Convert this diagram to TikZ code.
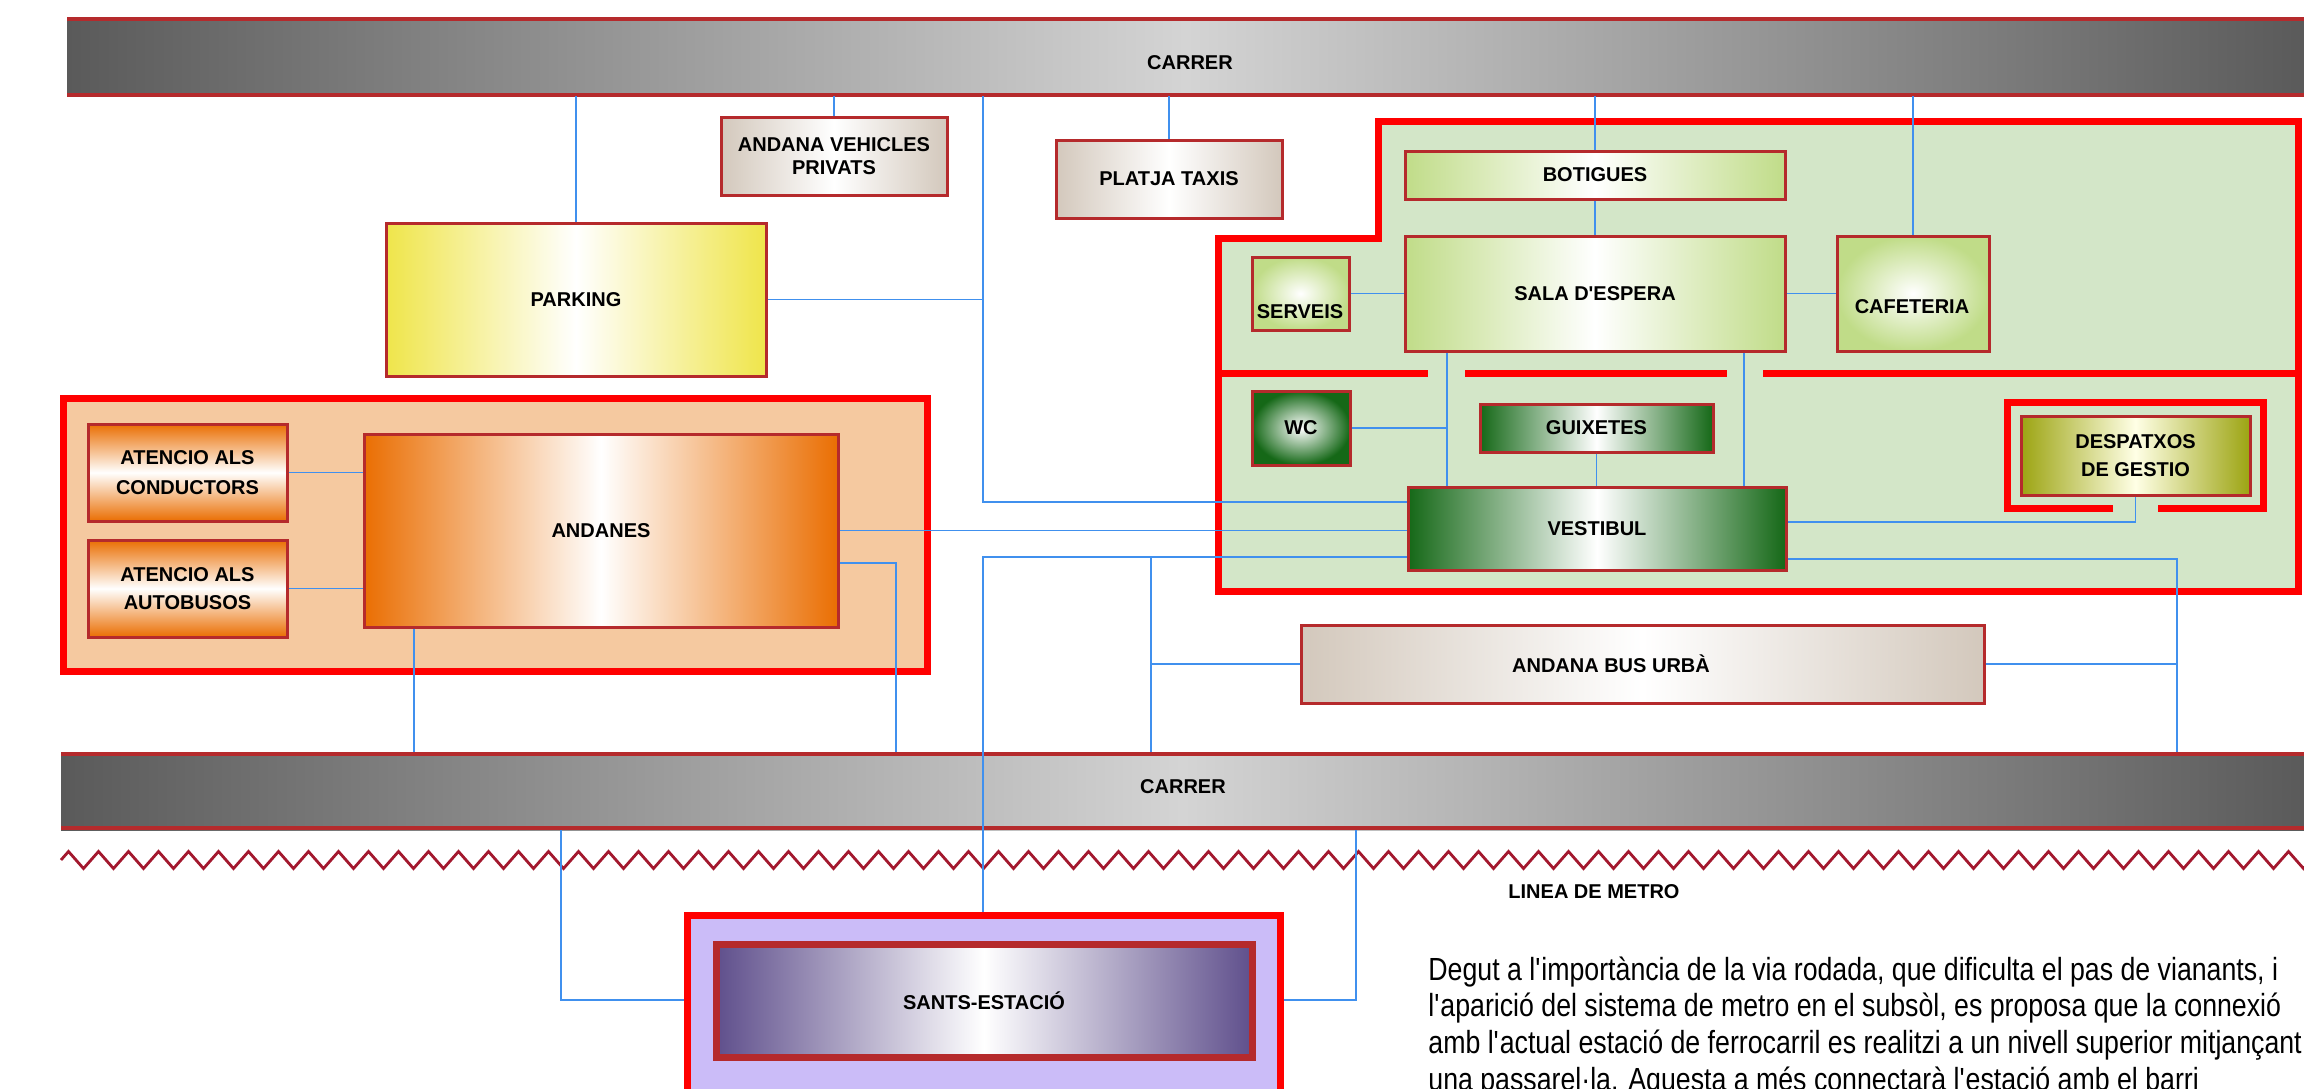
\documentclass[tikz,border=0pt]{standalone}
\usepackage{fontspec}
\setmainfont{Liberation Sans}
\newfontfamily\narrowfont[FakeStretch=0.835]{Liberation Sans}
\usetikzlibrary{fit,decorations.pathmorphing}
\definecolor{bardark}{HTML}{5A5A5A}
\definecolor{barlight}{HTML}{D4D4D4}
\definecolor{boxred}{HTML}{B52A2C}
\definecolor{zonered}{HTML}{FF0000}
\definecolor{greenzone}{HTML}{D3E6C8}
\definecolor{orangezone}{HTML}{F5C9A0}
\definecolor{lavzone}{HTML}{CBBCF8}
\definecolor{connblue}{HTML}{4090EE}
\definecolor{beige}{HTML}{D3C8BC}
\definecolor{yel}{HTML}{EFE54A}
\definecolor{lgreen}{HTML}{C0DC88}
\definecolor{dgreen}{HTML}{156817}
\definecolor{olive}{HTML}{9CA412}
\definecolor{orng}{HTML}{EA6E02}
\definecolor{purp}{HTML}{5F4F8C}
\definecolor{zigred}{HTML}{A3182E}
\newcommand\lblfont{\bfseries\fontsize{10}{11.5}\selectfont}
\newcommand\ap{\textquotesingle}
\begin{document}
\begin{tikzpicture}[x=0.5pt,y=-0.5pt,
 sz/.style 2 args={minimum width=#1*0.5pt,minimum height=#2*0.5pt},
 box/.style={draw=boxred,line width=1.5pt,inner sep=0pt,font=\lblfont,align=center},
 beigebox/.style={box,left color=beige,right color=beige,middle color=white},
 yelbox/.style={box,left color=yel,right color=yel,middle color=white},
 lgbox/.style={box,left color=lgreen,right color=lgreen,middle color=white},
 lgradbox/.style={box,inner color=white,outer color=lgreen},
 dgbox/.style={box,left color=dgreen,right color=dgreen,middle color=white},
 dgradbox/.style={box,inner color=white,outer color=dgreen},
 olbox/.style={box,left color=olive,right color=olive,middle color=white!90!yellow},
 orbox/.style={box,left color=orng,right color=orng,middle color=white},
 orvbox/.style={box,top color=orng,bottom color=orng,middle color=white},
 pubox/.style={box,line width=3.5pt,left color=purp,right color=purp,middle color=white},
 bar/.style={inner sep=0pt,left color=bardark,right color=bardark,middle color=barlight},
 barline/.style={draw=boxred,line width=1.75pt},
 zone/.style={draw=zonered,line width=3.5pt},
 conn/.style={draw=connblue,line width=0.8pt},
 lbl/.style={font=\lblfont,inner sep=0pt,align=center},
]
\fill[white] (0,0) rectangle (2304,1088);
\useasboundingbox (0,0) rectangle (2304,1088);

% zones
\draw[zone,fill=orangezone] (63,398) rectangle (927,671);
\draw[zone,fill=greenzone] (1218,238) -- (1378,238) -- (1378,121) -- (2298,121) -- (2298,591) -- (1218,591) -- cycle;
\draw[zone] (1218,373) -- (1428,373) (1465,373) -- (1727,373) (1763,373) -- (2298,373);
\draw[zone] (2113,508.5) -- (2007.5,508.5) -- (2007.5,402.5) -- (2263.5,402.5) -- (2263.5,508.5) -- (2158,508.5);
\node[draw=zonered,line width=3.5pt,fill=lavzone,inner sep=0pt,sz={593}{195}] (santsout) at (983.5,1012.5) {};

% streets
\node[bar,fit={(67,17) (2304,96)}] (topbar) {};
\draw[barline] (67,19) -- (2304,19) (67,95) -- (2304,95);
\node[lbl] (carrer1) at (1190,63) {CARRER};
\node[bar,fit={(61,752) (2304,830)}] (botbar) {};
\draw[barline] (61,754) -- (2304,754) (61,828) -- (2304,828);
\node[lbl] (carrer2) at (1183,787) {CARRER};

% metro line
\draw[zigred,line width=1.4pt,decorate,decoration={zigzag,segment length=15pt,amplitude=4.25pt}] (61,860) -- (2330,860);
\node[lbl] (metro) at (1594,892) {LINEA DE METRO};

% boxes
\node[beigebox,sz={226}{78}] (vehic) at (834,156) {ANDANA VEHICLES\\PRIVATS};
\node[beigebox,sz={226}{78}] (taxis) at (1169,179) {PLATJA TAXIS};
\node[yelbox,sz={380}{153}] (parking) at (576,299.5) {PARKING};
\node[orvbox,sz={199}{97},font=\bfseries\fontsize{10}{15}\selectfont] (cond) at (187.5,472.5) {ATENCIO ALS\\CONDUCTORS};
\node[orvbox,sz={199}{97},font=\bfseries\fontsize{10}{14}\selectfont] (auto) at (187.5,588.5) {ATENCIO ALS\\AUTOBUSOS};
\node[orbox,sz={474}{193}] (andanes) at (601,530.5) {ANDANES};
\node[lgbox,sz={380}{48}] (botig) at (1595,175) {BOTIGUES};
\node[lgbox,sz={380}{115}] (sala) at (1595,293.5) {SALA D\ap ESPERA};
\node[lgradbox,sz={152}{115}] (cafe) at (1913,293.5) {};
\node[lbl] (cafetxt) at (1912,307) {CAFETERIA};
\node[lgradbox,sz={97}{73}] (serv) at (1300.5,293.5) {};
\node[lbl] (servtxt) at (1300,312) {SERVEIS};
\node[dgradbox,sz={98}{74}] (wc) at (1301,428) {WC};
\node[dgbox,sz={233}{48}] (guix) at (1596.5,428) {GUIXETES};
\node[dgbox,sz={378}{83}] (vest) at (1597,528.5) {VESTIBUL};
\node[olbox,sz={229}{79},font=\bfseries\fontsize{10}{14}\selectfont] (desp) at (2135.5,455.5) {DESPATXOS\\DE GESTIO};
\node[beigebox,sz={683}{78}] (bus) at (1642.5,664) {};
\node[lbl] (bustxt) at (1611,664) {ANDANA BUS URBÀ};
\node[pubox,sz={536}{113}] (sants) at (984,1000.5) {SANTS-ESTACIÓ};

% connectors
\coordinate (vA) at (983,502);
\draw[conn] (topbar.south -| vA) -- (vA) -- (vA -| vest.west);
\draw[conn] (parking.east) -- (parking.east -| vA);
\draw[conn] (parking.north) -- (parking.north |- topbar.south);
\draw[conn] (vehic.north) -- (vehic.north |- topbar.south);
\draw[conn] (taxis.north) -- (taxis.north |- topbar.south);
\draw[conn] (botig.north) -- (botig.north |- topbar.south);
\draw[conn] (cafe.north) -- (cafe.north |- topbar.south);
\draw[conn] (botig.south) -- (sala.north);
\draw[conn] (serv.east) -- (sala.west);
\draw[conn] (cafe.west) -- (sala.east);
\coordinate (vH) at (1447,0);
\coordinate (vK) at (1744,0);
\draw[conn] (sala.south -| vH) -- (vest.north -| vH);
\draw[conn] (wc.east) -- (wc.east -| vH);
\draw[conn] (sala.south -| vK) -- (vest.north -| vK);
\draw[conn] (guix.south) -- (guix.south |- vest.north);
\coordinate (vG) at (2135,522);
\draw[conn] (desp.south) -- (desp.south |- vG) -- (vG -| vest.east);
\coordinate (vF) at (2177,559);
\draw[conn] (vF -| vest.east) -- (vF) -- (vF |- botbar.north);
\draw[conn] (bus.east) -- (bus.east -| vF);
\coordinate (vD) at (983,557);
\draw[conn] (vD -| vest.west) -- (vD) -- (vD |- santsout.north);
\coordinate (vE) at (1151,557);
\draw[conn] (vE) -- (vE |- botbar.north);
\draw[conn] (bus.west) -- (bus.west -| vE);
\draw[conn] (andanes.east) -- (andanes.east -| vest.west);
\coordinate (vB) at (896,563);
\draw[conn] (andanes.east |- vB) -- (vB) -- (vB |- botbar.north);
\coordinate (vC) at (414,0);
\draw[conn] (andanes.south -| vC) -- (botbar.north -| vC);
\draw[conn] (cond.east) -- (cond.east -| andanes.west);
\draw[conn] (auto.east) -- (auto.east -| andanes.west);
\coordinate (vI) at (561,1000);
\coordinate (vJ) at (1356,1000);
\draw[conn] (santsout.west |- vI) -- (vI) -- (vI |- botbar.south);
\draw[conn] (santsout.east |- vJ) -- (vJ) -- (vJ |- botbar.south);

% text (anchor on the baseline of the last line)
\node[anchor=base west,align=left,inner sep=0pt,font=\narrowfont\fontsize{16}{18.3}\selectfont] (para) at (1428,1090)
 {Degut a l\ap importància de la via rodada, que dificulta el pas de vianants, i\\
  l\ap aparició del sistema de metro en el subsòl, es proposa que la connexió\\
  amb l\ap actual estació de ferrocarril es realitzi a un nivell superior mitjançant\\
  una passarel·la. Aquesta a més connectarà l\ap estació amb el barri};
\end{tikzpicture}
\end{document}
